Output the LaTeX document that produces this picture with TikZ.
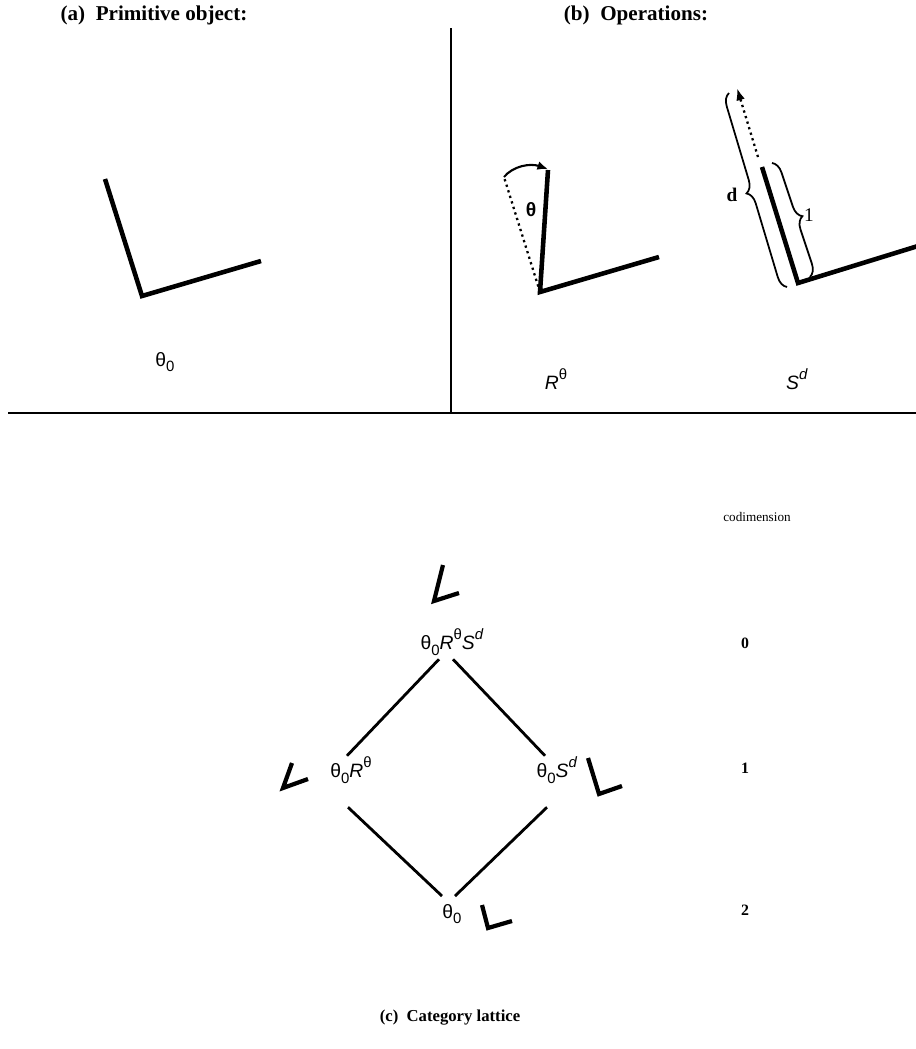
\documentclass[tikz,border=0pt]{standalone}
\usepackage{fontspec}
\setmainfont{Liberation Serif}
\newfontfamily\labfont{Liberation Sans}
\usepackage{tikz}
\usetikzlibrary{arrows.meta,positioning,calc,decorations.pathreplacing}
\newcommand{\lsub}[1]{\raisebox{-0.55ex}{\fontsize{8.5}{9}\selectfont #1}}
\newcommand{\lsup}[1]{\raisebox{0.95ex}{\fontsize{8.5}{9}\selectfont #1}}

\begin{document}
\begin{tikzpicture}[x=0.02cm,y=-0.02cm,
ttl/.style={font=\fontsize{12}{14}\selectfont\bfseries,inner sep=0pt},
lbl/.style={font=\labfont\fontsize{11}{13}\selectfont,inner sep=1pt},
obj/.style={line width=2.6pt},
mini/.style={line width=2.4pt},
link/.style={line width=1.6pt},
rule/.style={line width=1.6pt},
num/.style={font=\fontsize{9}{11}\selectfont\bfseries}]
\useasboundingbox (0,0) rectangle (916,1049);

% (a) primitive object
\node[ttl] (ta) at (154,15) {(a)\ \ Primitive object:};
\draw[obj] (105,179) -- (142,296) -- (261,261);
\node[lbl] (o) at (165,362) {θ\lsub{0}};

% dividers
\draw[rule] (451,28) -- (451,413);
\draw[rule] (8,413) -- (916,413);

% (b) operations
\node[ttl] (tb) at (636,15) {(b)\ \ Operations:};
\draw[obj] (548,170) -- (540,292) -- (659,257);
\draw[line width=1.3pt,dotted] (540,292) -- (504,177);
\draw[line width=1.2pt,-{Latex[length=6pt,width=5pt]}] (504,177) .. controls (513,166) and (530,163) .. (548,169);
\node[font=\labfont\bfseries\fontsize{11}{13}\selectfont] (th) at (531,210) {θ};
\node[lbl] (r) at (556,379) {\textit{R}\lsup{θ}};

\draw[obj] (762,167) -- (798,283) -- (918,246);
\draw[line width=1.3pt,dotted,-{Latex[length=7pt,width=5pt]}] (758,157) -- (737,88);
\draw[line width=1pt,decorate,decoration={brace,amplitude=0.24cm}] (772,163) -- (810,277);
\draw[line width=1pt,decorate,decoration={brace,amplitude=0.24cm}] (787,287) -- (729,93);
\node[font=\fontsize{11}{13}\selectfont\bfseries] (dl) at (732,195) {d};
\node[font=\fontsize{11}{13}\selectfont] (one) at (809,215) {1};
\node[lbl] (s) at (797,379) {\textit{S}\lsup{\textit{d}}};

% (c) category lattice
\node[font=\fontsize{7.5}{9}\selectfont] (cod) at (757,517) {codimension};
\node[num] (c0) at (745,643) {0};
\node[num] (c1) at (745,768) {1};
\node[num] (c2) at (745,910) {2};

\node[lbl] (top) at (452,642) {θ\lsub{0}\textit{R}\lsup{θ}\textit{S}\lsup{\textit{d}}};
\node[lbl] (lft) at (351,770) {θ\lsub{0}\textit{R}\lsup{θ}};
\node[lbl] (rgt) at (557,770) {θ\lsub{0}\textit{S}\lsup{\textit{d}}};
\node[lbl] (bot) at (452,914) {θ\lsub{0}};

\draw[link] ($(top.south)+(-13,2)$) -- ($(lft.north)+(-4,1)$);
\draw[link] ($(top.south)+(1,2)$) -- ($(rgt.north)+(-12,1)$);
\draw[link] ($(lft.south)+(-3,22)$) -- ($(bot.north)+(-10,-6)$);
\draw[link] ($(rgt.south)+(-10,22)$) -- ($(bot.north)+(3,-6)$);

\draw[mini] (443,565) -- (434,601) -- (459,593);
\draw[mini] (292,763) -- (283,788) -- (308,779);
\draw[mini] (588,758) -- (599,794) -- (622,786);
\draw[mini] (482,905) -- (488,928) -- (512,921);

\node[font=\fontsize{9.5}{11}\selectfont\bfseries] (tc) at (450,1018) {(c)\ \ Category lattice};
\end{tikzpicture}
\end{document}
